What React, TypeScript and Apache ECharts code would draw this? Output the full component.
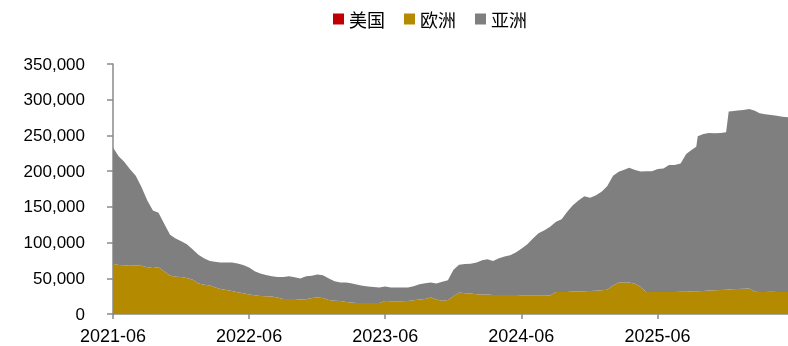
import React, { useEffect, useRef } from "react";
import * as echarts from "echarts";

const dates = [
  "2021-06-01", "2021-06-16", "2021-07-01", "2021-07-16", "2021-08-01", "2021-08-16", "2021-09-01", "2021-09-16", "2021-10-01", "2021-10-16", "2021-11-01", "2021-11-16", "2021-12-01", "2021-12-16",
  "2022-01-01", "2022-01-16", "2022-02-01", "2022-02-16", "2022-03-01", "2022-03-16", "2022-04-01", "2022-04-16", "2022-05-01", "2022-05-16", "2022-06-01", "2022-06-16", "2022-07-01", "2022-07-16", "2022-08-01", "2022-08-16", "2022-09-01", "2022-09-16", "2022-10-01", "2022-10-16", "2022-11-01", "2022-11-16", "2022-12-01", "2022-12-16",
  "2023-01-01", "2023-01-16", "2023-02-01", "2023-02-16", "2023-03-01", "2023-03-16", "2023-04-01", "2023-04-16", "2023-05-01", "2023-05-16", "2023-06-01", "2023-06-16", "2023-07-01", "2023-07-16", "2023-08-01", "2023-08-16", "2023-09-01", "2023-09-16", "2023-10-01", "2023-10-16", "2023-11-01", "2023-11-16", "2023-12-01", "2023-12-16",
  "2024-01-01", "2024-01-16", "2024-02-01", "2024-02-16", "2024-03-01", "2024-03-16", "2024-04-01", "2024-04-16", "2024-05-01", "2024-05-16", "2024-06-01", "2024-06-16", "2024-07-01", "2024-07-16", "2024-08-01", "2024-08-16", "2024-09-01", "2024-09-16", "2024-10-01", "2024-10-16", "2024-11-01", "2024-11-16", "2024-12-01", "2024-12-16",
  "2025-01-01", "2025-01-16", "2025-02-01", "2025-02-16", "2025-03-01", "2025-03-16", "2025-04-01", "2025-04-16", "2025-05-01", "2025-05-16", "2025-06-01", "2025-06-16", "2025-07-01", "2025-07-16", "2025-08-01", "2025-08-16", "2025-09-01", "2025-09-12", "2025-09-16", "2025-10-01", "2025-10-16", "2025-11-01", "2025-11-16", "2025-12-01", "2025-12-08", "2025-12-16",
  "2026-01-01", "2026-01-16", "2026-02-01", "2026-02-16", "2026-03-01", "2026-03-16", "2026-04-01", "2026-04-16", "2026-05-01", "2026-05-16",
];

const usa = [
  500, 500, 500, 500, 500, 500, 500, 500, 0, 0,
  0, 0, 0, 0, 0, 0, 0, 0, 0, 0,
  0, 0, 0, 0, 0, 0, 0, 0, 0, 0,
  0, 0, 0, 0, 0, 0, 0, 0, 0, 0,
  0, 0, 0, 0, 0, 0, 0, 0, 0, 0,
  0, 0, 0, 0, 0, 0, 0, 0, 0, 0,
  0, 0, 0, 0, 0, 0, 0, 0, 0, 0,
  0, 0, 0, 0, 0, 0, 0, 0, 0, 0,
  0, 0, 0, 0, 0, 0, 0, 0, 0, 0,
  0, 0, 0, 0, 0, 0, 0, 0, 0, 0,
  0, 0, 0, 0, 0, 0, 0, 0, 0, 0,
  0, 0, 0, 0, 0, 0, 0, 0, 0, 0,
  0, 0,
];

const europe = [
  70000, 68000, 67600, 67000, 67500, 67000, 65000, 64000, 65500, 60000,
  54000, 52000, 51700, 50500, 48000, 42600, 41000, 39800, 37400, 35000,
  33600, 32200, 30400, 29000, 27200, 26200, 25200, 24800, 24400, 23000,
  21000, 21000, 21000, 20200, 20600, 22500, 23000, 22300, 19700, 18700,
  18200, 16800, 16000, 15400, 15400, 15400, 15400, 15400, 18200, 17800,
  17800, 17800, 18200, 19200, 20200, 21000, 23000, 20200, 18700, 19700,
  25000, 30000, 29200, 28700, 27800, 27200, 27200, 26700, 26700, 26700,
  26700, 26700, 26300, 26300, 26300, 26300, 26300, 25800, 30800, 30800,
  30800, 31400, 31400, 31800, 32200, 32700, 33200, 34100, 40000, 44000,
  44000, 44000, 42500, 37900, 30800, 30800, 30800, 30800, 30800, 30800,
  31200, 31200, 31700, 31900, 32000, 32300, 32800, 33200, 33600, 34000,
  34200, 34500, 35000, 35200, 35600, 31000, 30800, 30800, 31000, 30800,
  30800, 30800,
];

const asia = [
  162500, 152500, 144900, 135500, 125500, 110500, 93500, 80500, 76100, 66700,
  57000, 53700, 50300, 47200, 42300, 40400, 36600, 34500, 35600, 37000,
  38400, 39800, 40200, 39700, 37800, 33700, 31400, 29900, 28500, 28900,
  30900, 31900, 30400, 29400, 32300, 31200, 32200, 32000, 29900, 27100,
  25800, 27200, 27000, 25800, 24300, 23000, 22500, 21600, 20200, 19200,
  19200, 19200, 18800, 19600, 21400, 22000, 21000, 22400, 26300, 27500,
  37000, 39000, 40800, 41800, 44400, 48000, 49400, 47600, 51300, 53700,
  55600, 59300, 65300, 71400, 79300, 86800, 91000, 96200, 98200, 102000,
  112200, 120900, 127900, 133100, 130400, 133200, 137800, 144900, 153500, 155000,
  157500, 160800, 159000, 161600, 169200, 169200, 172200, 173000, 177700, 177700,
  179400, 192800, 198700, 202100, 217000, 219600, 220600, 219700, 219800, 220300,
  249300, 249500, 250000, 250400, 251400, 253600, 250200, 248700, 247600, 246900,
  245500, 244600,
];

const seriesNames = ["美国", "欧洲", "亚洲"];
const seriesColors = ["#C00000", "#B48A00", "#7F7F7F"];
const tickLabels = ["2021-06", "2022-06", "2023-06", "2024-06", "2025-06"];
const yMin = 0;
const yMax = 350000;
const yStep = 50000;

const DAY = 86400000;
const startMs = Date.parse(dates[0]);
const dayOf = (d: string) => Math.round((Date.parse(d) - startMs) / DAY);
const lastDay = dayOf(dates[dates.length - 1]);
const tickDays = tickLabels.map((t) => dayOf(t + "-01"));

export default function App() {
  const ref = useRef<HTMLDivElement>(null);
  useEffect(() => {
    const chart = echarts.init(ref.current!, null, { renderer: "svg" });
    const values = [usa, europe, asia];
    const series = seriesNames.map((name, s) => ({
      name,
      type: "line",
      stack: "total",
      xAxisIndex: 0,
      yAxisIndex: 0,
      data: dates.map((d, i) => [d, values[s][i]]),
      symbol: "none",
      showSymbol: false,
      lineStyle: { width: 0 },
      areaStyle: { color: seriesColors[s], opacity: 1 },
      itemStyle: { color: seriesColors[s] },
      emphasis: { disabled: true },
    }));
    chart.setOption({
      animation: false,
      legend: {
        data: seriesNames,
        left: 328,
        top: 5,
        icon: "rect",
        itemWidth: 11,
        itemHeight: 11,
        itemGap: 19,
        textStyle: { fontSize: 18, fontFamily: "Noto Sans CJK SC", color: "#000" },
      },
      grid: { left: 113, right: 0, top: 64, bottom: 32, containLabel: false },
      xAxis: [
        {
          type: "time",
          min: dates[0],
          max: dates[dates.length - 1],
          show: false,
        },
        {
          type: "value",
          position: "bottom",
          min: 0,
          max: lastDay,
          interval: 365,
          axisLine: { show: true, lineStyle: { color: "#8A8A8A", width: 1.5 } },
          axisTick: { show: true, length: 5, lineStyle: { color: "#8A8A8A", width: 1.5 } },
          splitLine: { show: false },
          axisLabel: {
            showMaxLabel: false,
            margin: 13,
            fontSize: 18,
            fontFamily: "Liberation Sans",
            color: "#000",
            formatter: (v: number) => {
              const idx = tickDays.findIndex((d) => Math.abs(d - v) <= 2);
              return idx >= 0 ? tickLabels[idx] : "";
            },
          },
        },
      ],
      yAxis: {
        type: "value",
        min: yMin,
        max: yMax,
        interval: yStep,
        axisLine: { show: true, lineStyle: { color: "#8A8A8A", width: 1.5 } },
        axisTick: { show: true, length: 6, lineStyle: { color: "#8A8A8A", width: 1.5 } },
        splitLine: { show: false },
        axisLabel: {
          margin: 28,
          fontSize: 17,
          fontFamily: "Liberation Sans",
          color: "#000",
          formatter: (v: number) => v.toLocaleString("en-US"),
        },
      },
      series,
    });
    return () => chart.dispose();
  }, []);
  return (
    <div
      ref={ref}
      style={{ position: "fixed", left: 0, top: 0, width: 788, height: 346 }}
    />
  );
}
